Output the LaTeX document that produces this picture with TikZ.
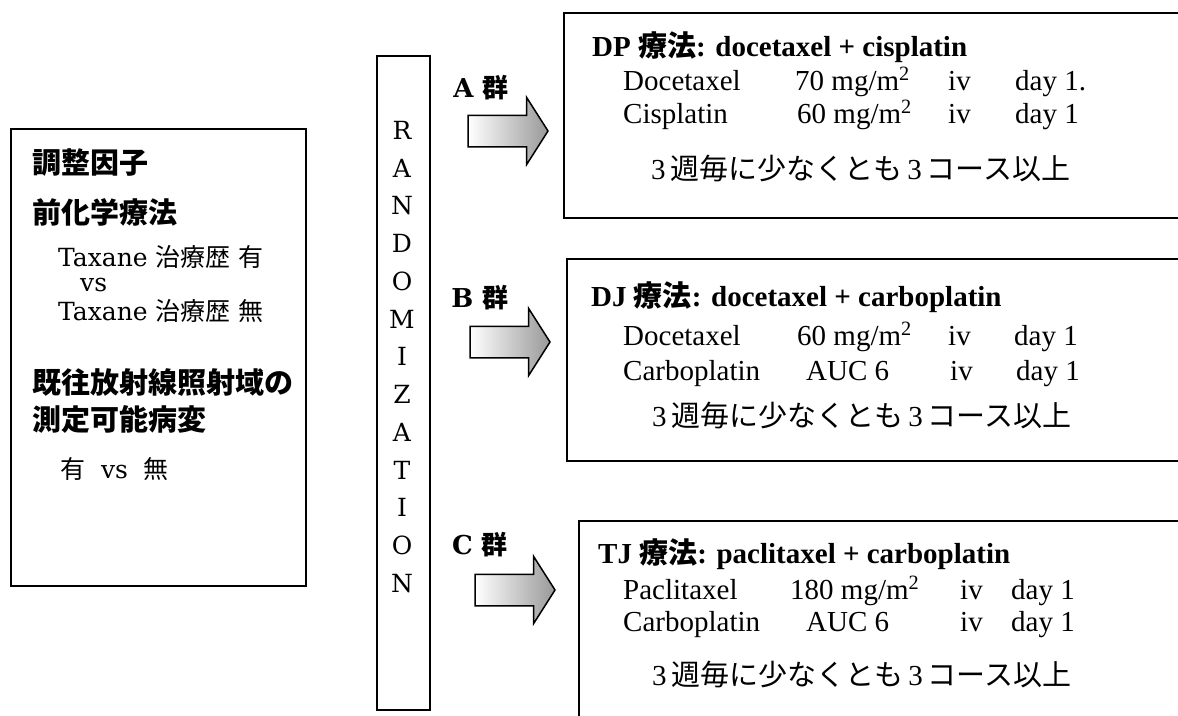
\documentclass[tikz,border=0pt]{standalone}
\usepackage{fontspec}
\setmainfont{Liberation Serif}
\newfontfamily\jp{Noto Sans CJK JP}
\newfontfamily\cent{DejaVu Serif}
\usetikzlibrary{shapes.arrows}
\begin{document}
\begin{tikzpicture}[x=1pt,y=-1pt,
  box/.style={draw, line width=1.6pt, rectangle, inner sep=0pt, anchor=north west},
  blk/.style={single arrow, draw, line width=1.5pt, inner xsep=0pt, inner ysep=15pt,
    minimum height=80pt, single arrow head extend=18pt, single arrow tip angle=115,
    left color=white, right color=black!40, anchor=west, outer sep=0pt},
  txt/.style={inner sep=0pt, anchor=base west, font=\fontsize{29}{32}\selectfont},
  ttl/.style={inner sep=0pt, anchor=base west, font=\fontsize{29}{32}\selectfont\bfseries},
  jpl/.style={inner sep=0pt, anchor=base west, font=\fontsize{29}{32}\selectfont},
  lft/.style={inner sep=0pt, anchor=base west, font=\fontsize{25}{26}\selectfont\cent},
  lfh/.style={inner sep=0pt, anchor=west, font=\fontsize{29}{32}\selectfont\jp\bfseries},
  grp/.style={inner sep=0pt, anchor=center, font=\fontsize{26}{30}\selectfont\cent\bfseries}
]
\useasboundingbox (0,0) rectangle (1178,715);
\clip (0,0) rectangle (1178,715);

% left box: stratification factors
\node[box, minimum width=295pt, minimum height=457pt] (fac) at (10,128) {};
\node[lfh] (f1) at (32,163) {調整因子};
\node[lfh] (f2) at (32,212) {前化学療法};
\node[lft] (f3) at (58,266) {Taxane {\jp 治療歴} {\jp 有}};
\node[lft] (f4) at (80,291) {vs};
\node[lft] (f5) at (58,320) {Taxane {\jp 治療歴} {\jp 無}};
\node[lfh] (f6) at (32,383) {既往放射線照射域の};
\node[lfh] (f7) at (32,419) {測定可能病変};
\node[lft] (f8) at (60,478) {{\jp 有}\ \ vs\ \ {\jp 無}};

% randomization box
\node[box, minimum width=53pt, minimum height=654pt] (rand) at (376,55) {};
\node[inner sep=0pt, align=center, font=\fontsize{25}{37.75}\selectfont\cent] (randtxt) at (402,357)
  {R\\A\\N\\D\\O\\M\\I\\Z\\A\\T\\I\\O\\N};

% group labels
\node[grp] (la) at (481,88) {A {\jp 群}};
\node[grp] (lb) at (480,298) {B {\jp 群}};
\node[grp] (lc) at (480,545) {C {\jp 群}};

% block arrows
\node[blk] (arA) at (468,131) {};
\node[blk] (arB) at (470,342) {};
\node[blk] (arC) at (475,590) {};

% arm A
\node[box, minimum width=660pt, minimum height=205pt] (boxA) at (563,12) {};
\node[ttl] (a0) at (592,56) {DP {\jp 療法}: docetaxel + cisplatin};
\node[txt] (a11) at (623,90) {Docetaxel};
\node[txt] (a12) at (795,90) {70 mg/m\textsuperscript{2}};
\node[txt] (a13) at (948,90) {iv};
\node[txt] (a14) at (1015,90) {day 1.};
\node[txt] (a21) at (623,123) {Cisplatin};
\node[txt] (a22) at (797,123) {60 mg/m\textsuperscript{2}};
\node[txt] (a23) at (948,123) {iv};
\node[txt] (a24) at (1015,123) {day 1};
\node[jpl] (a3) at (651,179) {3\,{\jp 週毎に少なくとも}\,3\,{\jp コース以上}};

% arm B
\node[box, minimum width=660pt, minimum height=202pt] (boxB) at (566,258) {};
\node[ttl] (b0) at (591,306) {DJ {\jp 療法}: docetaxel + carboplatin};
\node[txt] (b11) at (623,345) {Docetaxel};
\node[txt] (b12) at (797,345) {60 mg/m\textsuperscript{2}};
\node[txt] (b13) at (948,345) {iv};
\node[txt] (b14) at (1014,345) {day 1};
\node[txt] (b21) at (623,380) {Carboplatin};
\node[txt] (b22) at (806,380) {AUC 6};
\node[txt] (b23) at (950,380) {iv};
\node[txt] (b24) at (1016,380) {day 1};
\node[jpl] (b3) at (652,426) {3\,{\jp 週毎に少なくとも}\,3\,{\jp コース以上}};

% arm C
\node[box, minimum width=660pt, minimum height=230pt] (boxC) at (578,520) {};
\node[ttl] (c0) at (598,563) {TJ {\jp 療法}: paclitaxel + carboplatin};
\node[txt] (c11) at (623,599) {Paclitaxel};
\node[txt] (c12) at (790,599) {180 mg/m\textsuperscript{2}};
\node[txt] (c13) at (960,599) {iv};
\node[txt] (c14) at (1011,599) {day 1};
\node[txt] (c21) at (623,631) {Carboplatin};
\node[txt] (c22) at (806,631) {AUC 6};
\node[txt] (c23) at (960,631) {iv};
\node[txt] (c24) at (1011,631) {day 1};
\node[jpl] (c3) at (652,685) {3\,{\jp 週毎に少なくとも}\,3\,{\jp コース以上}};
\end{tikzpicture}
\end{document}
